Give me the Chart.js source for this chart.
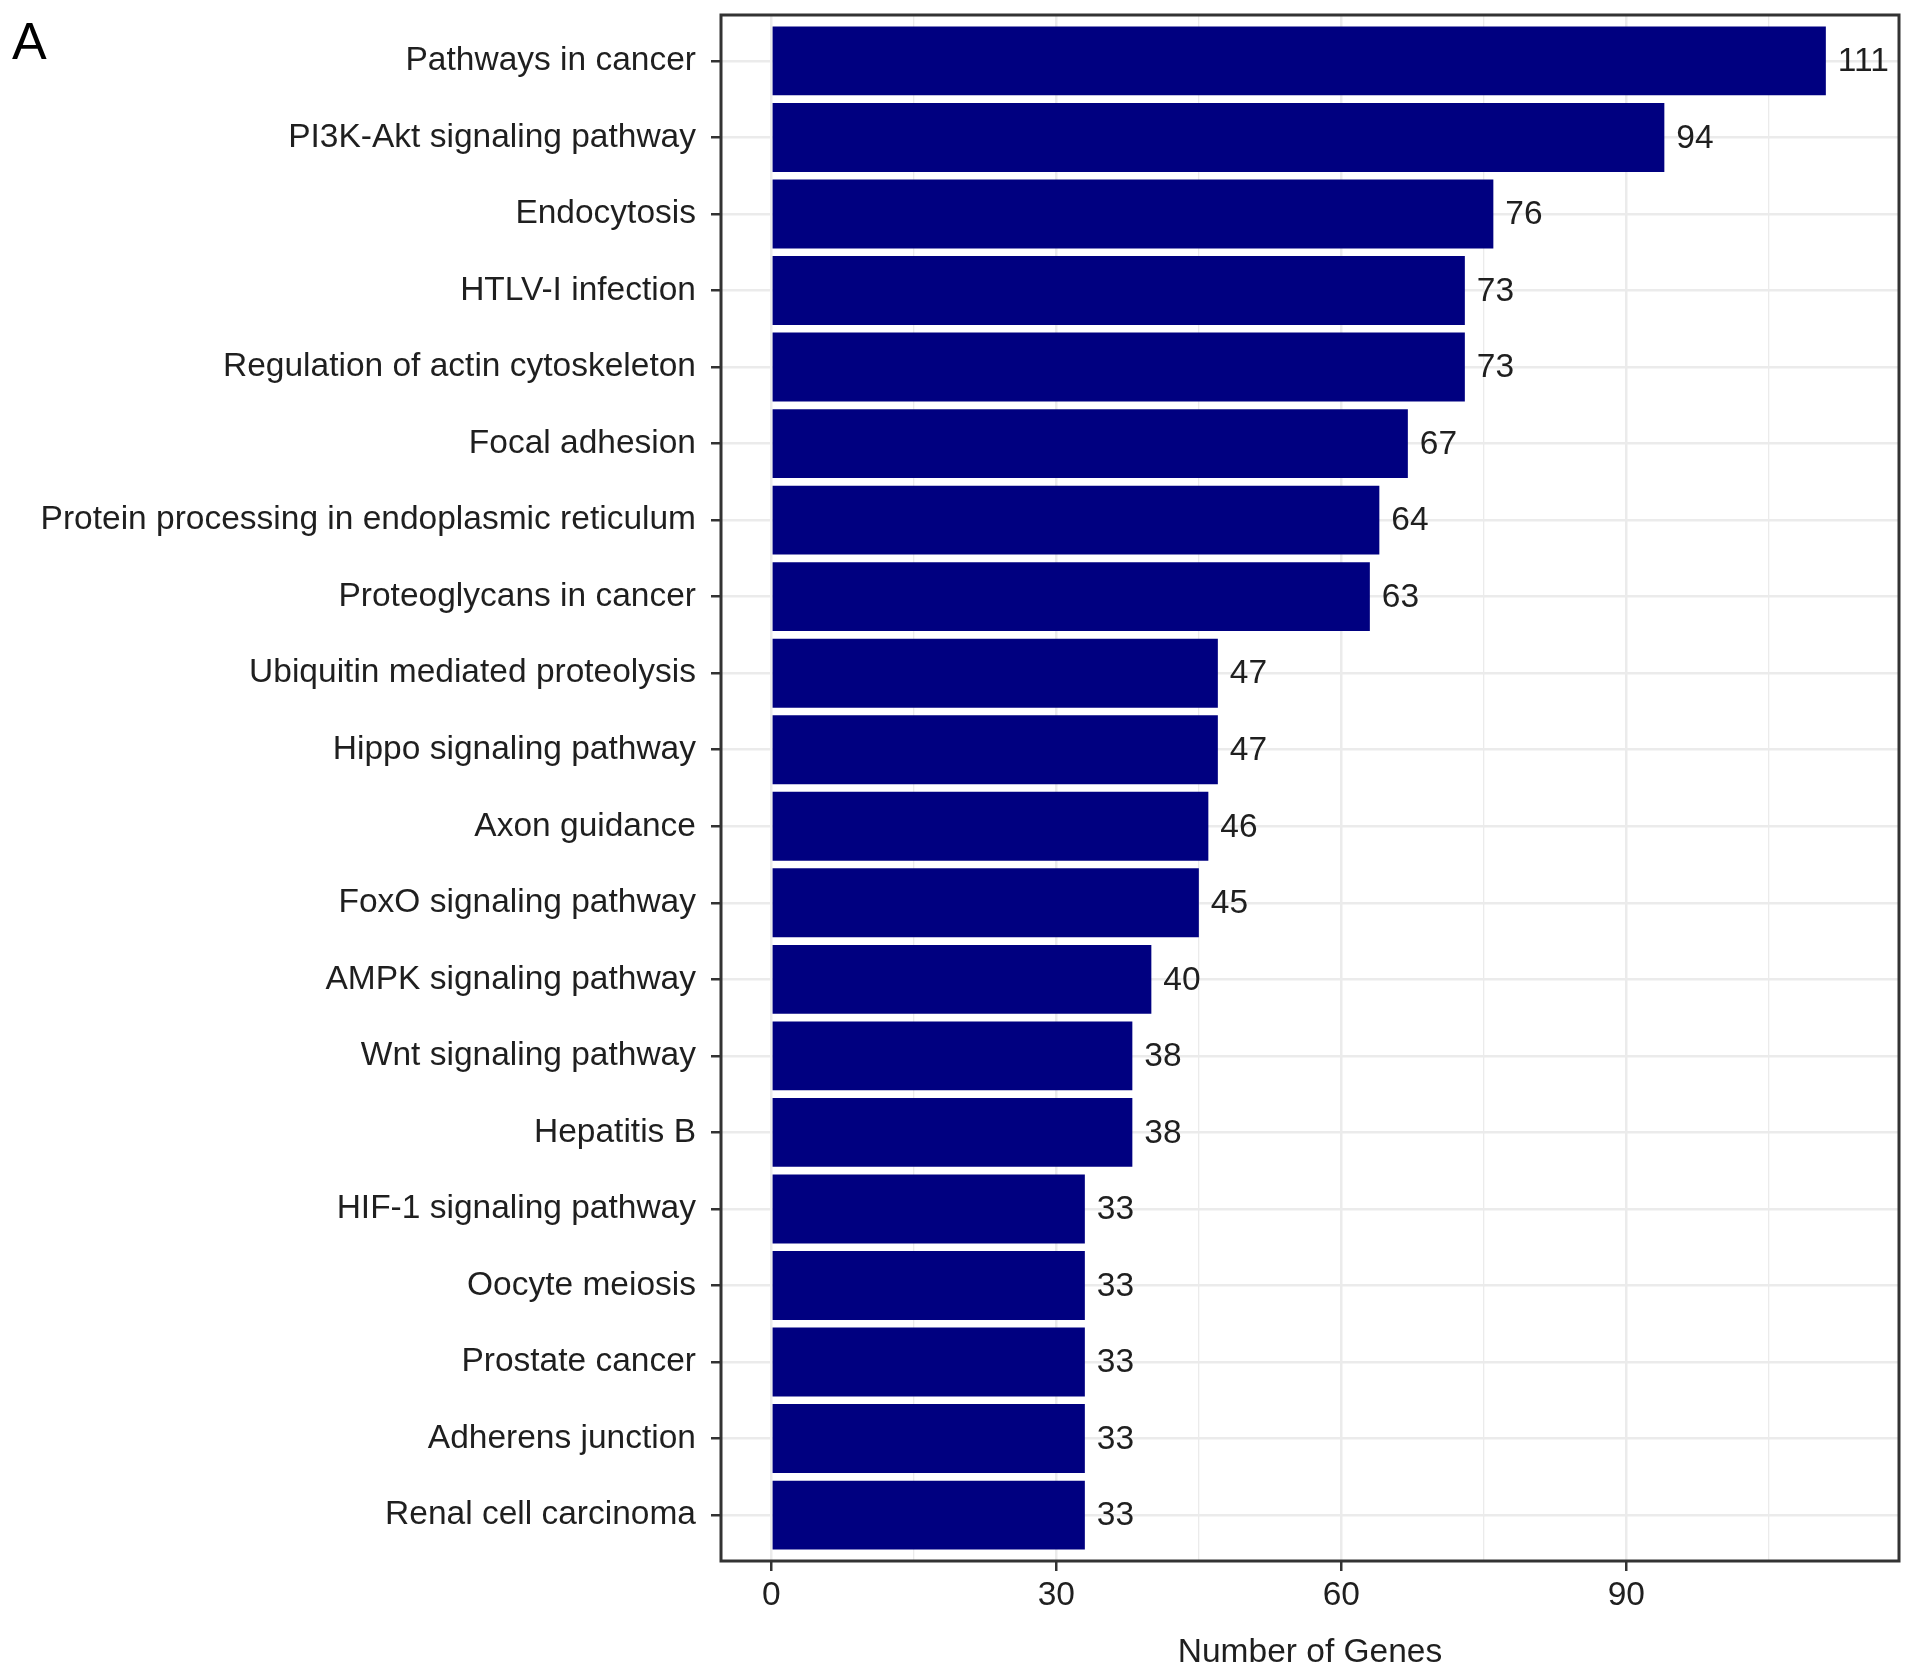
<!DOCTYPE html>
<html>
<head>
<meta charset="utf-8">
<title>KEGG pathways - Number of Genes</title>
<script src="https://cdn.jsdelivr.net/npm/chart.js@4.4.1/dist/chart.umd.min.js"></script>
<style>
    html, body { margin: 0; padding: 0; background: #fff; }
    #chart { display: block; }
</style>
</head>
<body>
<canvas id="chart" width="1913" height="1675"></canvas>
<script>
// Pathway names, top to bottom
const categories = [
    'Pathways in cancer',
    'PI3K-Akt signaling pathway',
    'Endocytosis',
    'HTLV-I infection',
    'Regulation of actin cytoskeleton',
    'Focal adhesion',
    'Protein processing in endoplasmic reticulum',
    'Proteoglycans in cancer',
    'Ubiquitin mediated proteolysis',
    'Hippo signaling pathway',
    'Axon guidance',
    'FoxO signaling pathway',
    'AMPK signaling pathway',
    'Wnt signaling pathway',
    'Hepatitis B',
    'HIF-1 signaling pathway',
    'Oocyte meiosis',
    'Prostate cancer',
    'Adherens junction',
    'Renal cell carcinoma'
];

// Number of genes per pathway
const geneCounts = [111, 94, 76, 73, 73, 67, 64, 63, 47, 47, 46, 45, 40, 38, 38, 33, 33, 33, 33, 33];

// x grid: labelled majors and unlabelled minors
const majorTicks = [0, 30, 60, 90];
const minorTicks = [15, 45, 75, 105];

const FONT = 'Liberation Sans, Arial, Helvetica, sans-serif';
const TEXT_COLOR = '#1f1f1f';
const GRID_COLOR = '#ebebeb';
const FRAME_COLOR = '#333333';

const isMajor = (v) => majorTicks.includes(v);

// Panel frame, bar value labels and the panel letter
const decorPlugin = {
    id: 'decor',
    afterDatasetsDraw(chart) {
        const ctx = chart.ctx;
        const meta = chart.getDatasetMeta(0);
        ctx.save();
        ctx.fillStyle = TEXT_COLOR;
        ctx.font = '33.5px ' + FONT;
        ctx.textAlign = 'left';
        ctx.textBaseline = 'middle';
        meta.data.forEach((bar, i) => {
            ctx.fillText(String(geneCounts[i]), bar.x + 12, bar.y + 1);
        });
        ctx.restore();
    },
    afterDraw(chart) {
        const { ctx, chartArea } = chart;
        ctx.save();
        ctx.strokeStyle = FRAME_COLOR;
        ctx.lineWidth = 3;
        ctx.strokeRect(chartArea.left, chartArea.top,
            chartArea.right - chartArea.left, chartArea.bottom - chartArea.top);

        ctx.fillStyle = '#000';
        ctx.font = '52px ' + FONT;
        ctx.textAlign = 'left';
        ctx.textBaseline = 'top';
        ctx.fillText('A', 12, 19);
        ctx.restore();
    }
};

const ctx = document.getElementById('chart').getContext('2d');
new Chart(ctx, {
    type: 'bar',
    data: {
        datasets: [{
            label: 'Number of Genes',
            data: geneCounts.map((v, i) => ({ x: v, y: i })),
            backgroundColor: '#000080',
            borderWidth: 0,
            barPercentage: 0.9,
            categoryPercentage: 1.0
        }]
    },
    options: {
        indexAxis: 'y',
        responsive: false,
        animation: false,
        devicePixelRatio: 1,
        layout: { padding: { left: 0, right: 14, top: 15, bottom: 0 } },
        plugins: {
            legend: { display: false },
            tooltip: { enabled: false }
        },
        scales: {
            y: {
                type: 'linear',
                reverse: true,
                min: -0.6,
                max: categories.length - 0.4,
                offset: false,
                afterBuildTicks: (axis) => {
                    axis.ticks = categories.map((c, i) => ({ value: i }));
                },
                afterFit: (axis) => {
                    axis.width = 721;
                    axis.paddingTop = 0;
                    axis.paddingBottom = 0;
                },
                ticks: {
                    autoSkip: false,
                    callback: (v) => categories[v],
                    font: { family: FONT, size: 33.5 },
                    color: TEXT_COLOR,
                    padding: 15
                },
                grid: {
                    offset: false,
                    color: GRID_COLOR,
                    lineWidth: 2.5,
                    tickColor: FRAME_COLOR,
                    tickLength: 10,
                    tickWidth: 2.5
                },
                border: { display: false }
            },
            x: {
                type: 'linear',
                min: -5.3,
                max: 118.7,
                afterBuildTicks: (axis) => {
                    axis.ticks = majorTicks.concat(minorTicks)
                        .sort((a, b) => a - b)
                        .map(v => ({ value: v }));
                },
                afterFit: (axis) => {
                    axis.height = 114;
                    axis.paddingLeft = 0;
                    axis.paddingRight = 0;
                },
                ticks: {
                    autoSkip: false,
                    maxRotation: 0,
                    callback: (v) => (isMajor(v) ? String(v) : ''),
                    font: { family: FONT, size: 33.5 },
                    color: TEXT_COLOR,
                    padding: 5
                },
                grid: {
                    color: GRID_COLOR,
                    lineWidth: (c) => (c.tick && isMajor(c.tick.value) ? 2.5 : 1.3),
                    tickColor: (c) => (c.tick && isMajor(c.tick.value) ? FRAME_COLOR : 'rgba(0,0,0,0)'),
                    tickLength: 10,
                    tickWidth: 2.5
                },
                border: { display: false },
                title: {
                    display: true,
                    text: 'Number of Genes',
                    font: { family: FONT, size: 33.5 },
                    color: TEXT_COLOR,
                    padding: { top: 4, bottom: 2 }
                }
            }
        }
    },
    plugins: [decorPlugin]
});
</script>
</body>
</html>
